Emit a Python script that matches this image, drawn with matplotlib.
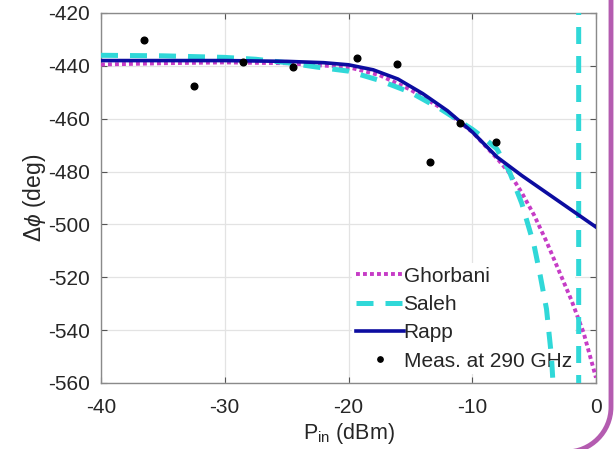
import matplotlib
matplotlib.use("Agg")
import matplotlib.pyplot as plt
import numpy as np
from matplotlib.path import Path
from matplotlib.patches import PathPatch
from matplotlib.transforms import IdentityTransform

plt.rcParams["font.family"] = ["Liberation Sans", "DejaVu Sans"]
plt.rcParams["mathtext.fontset"] = "custom"
plt.rcParams["mathtext.rm"] = "Liberation Sans"
plt.rcParams["mathtext.it"] = "Liberation Sans:italic"
plt.rcParams["axes.unicode_minus"] = False

# ---------------------------------------------------------------------
# Data
# ---------------------------------------------------------------------
meas_x = [-36.5, -32.5, -28.5, -24.5, -19.3, -16.1, -13.4, -11.0, -8.1]
meas_y = [-430.2, -447.7, -438.7, -440.4, -437.2, -439.3, -476.4, -461.5, -468.9]

rapp_x = [-40, -35, -30, -25, -22, -20, -18, -16, -14, -12, -10, -8, -6, -4, -2, 0]
rapp_y = [-438, -438, -438, -438.3, -438.8, -439.6, -441.5, -445, -450.5,
          -457, -465, -474.5, -481.5, -488, -494.5, -501]

ghor_x = [-40, -35, -30, -25, -20, -17.5, -15, -12.5, -10, -8, -7, -6, -5,
          -4, -3, -2, -1, 0]
ghor_y = [-439.5, -439, -438.7, -439, -440.5, -443.5, -449, -456, -465, -475,
          -480.5, -488, -496.5, -506.5, -517.5, -528.5, -541, -558]

# Saleh has a pole near -1.4 dBm: the branch after it is a vertical line
saleh_x = [-40, -35, -30, -27.5, -25, -22.5, -20, -17.5, -15, -12.5, -10, -9,
           -8, -7, -6, -5, -4.5, -4, -3.6, -3.4, np.nan, -1.4, -1.4]
saleh_y = [-436, -436.2, -436.8, -437.5, -438.8, -440.5, -442, -445.5, -450,
           -456.5, -464, -467.5, -471.5, -480, -492, -508, -519.5, -532, -550,
           -566, np.nan, -700, -300]

x_ticks = [-40, -30, -20, -10, 0]
y_ticks = [-560, -540, -520, -500, -480, -460, -440, -420]

# ---------------------------------------------------------------------
# Figure
# ---------------------------------------------------------------------
fig = plt.figure(figsize=(6.15, 4.49), dpi=100)
ax = fig.add_axes([101 / 615, 1 - 383 / 449, 495 / 615, 370 / 449])

ax.plot(ghor_x, ghor_y, color="#c63cc6", lw=2.8, ls=(0, (1.0, 0.8)),
        label="Ghorbani", zorder=3)
ax.plot(saleh_x, saleh_y, color="#30d8d8", lw=3.6, ls=(0, (3.4, 2.4)),
        label="Saleh", zorder=3)
ax.plot(rapp_x, rapp_y, color="#0c0ca0", lw=2.6, label="Rapp", zorder=4)
ax.plot(meas_x, meas_y, "o", color="black", ms=4.8, ls="none",
        label="Meas. at 290 GHz", zorder=5)

ax.set_xlim(-40, 0)
ax.set_ylim(-560, -420)
ax.set_xticks(x_ticks)
ax.set_yticks(y_ticks)
ax.tick_params(direction="in", length=4, width=0.8, color="#555555",
               labelsize=15, labelcolor="#262626", top=True, right=True)
ax.tick_params(axis="x", pad=11)
ax.tick_params(axis="y", pad=8)
ax.grid(True, color="#e3e3e3", lw=0.9)
ax.set_axisbelow(True)
for s in ax.spines.values():
    s.set_color("#8a8a8a")
    s.set_linewidth(1.0)

ax.set_xlabel("P$_{\\mathrm{in}}$ (dBm)", fontsize=15.5, color="#262626",
              labelpad=3)
ax.set_ylabel("Δ$\\phi$ (deg)", fontsize=16.5, color="#262626", labelpad=0)

leg = ax.legend(loc="lower left", bbox_to_anchor=(0.508, 0.025),
                fontsize=15, frameon=True,
                handlelength=2.3, handletextpad=0.0, labelspacing=0.45,
                borderpad=0.15, borderaxespad=0.0, markerscale=0.8)
leg.get_frame().set_edgecolor("none")
leg.get_frame().set_facecolor("white")
leg.get_frame().set_alpha(1.0)
leg.set_zorder(1.5)
for t in leg.get_texts():
    t.set_color("#262626")

# purple rounded frame on the right / bottom edge of the picture
r = 45.0
cx, cy = 566.0, 42.0
k = 0.5523
verts = [(611, 470), (611, cy), (611, cy - r * k), (cx + r * k, cy - r),
         (cx, cy - r), (300, cy - r)]
codes = [Path.MOVETO, Path.LINETO, Path.CURVE4, Path.CURVE4, Path.CURVE4,
         Path.LINETO]
frame = PathPatch(Path(verts, codes), fill=False, edgecolor="#b45cb0",
                  lw=3.5, transform=IdentityTransform())
fig.add_artist(frame)

fig.savefig("out.png", dpi=100)
